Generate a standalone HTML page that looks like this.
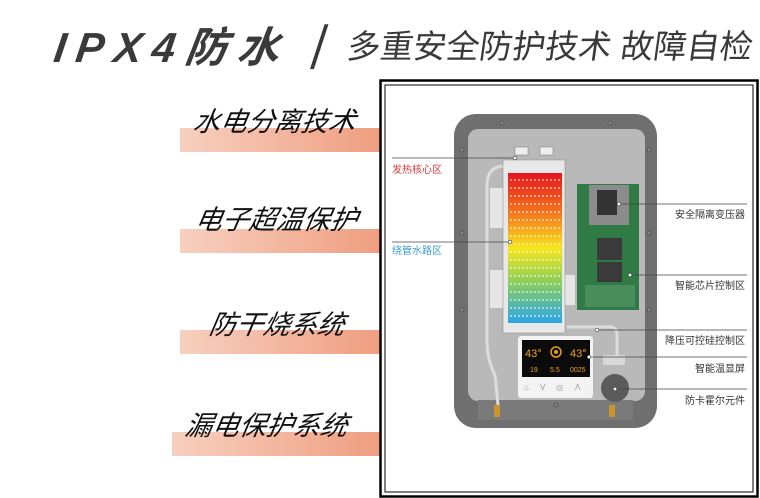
<!DOCTYPE html>
<html><head><meta charset="utf-8"><style>
html,body{margin:0;padding:0;background:#fff;}
body{width:760px;height:498px;position:relative;overflow:hidden;font-family:"Liberation Sans","Noto Sans CJK SC",sans-serif;}
.t{position:absolute;white-space:nowrap;}
.bar{position:absolute;height:24px;background:linear-gradient(90deg,#f7d0bf,#ef9e80);}
.lbl{position:absolute;font-size:27px;font-style:italic;color:#111;white-space:nowrap;transform:skewX(-10deg);}
</style></head><body>
<div class="t" style="left:55px;top:14px;font-size:42px;font-weight:bold;font-style:italic;color:#3a3a3a;letter-spacing:10px;transform:skewX(-8deg);">IPX4防水</div>
<div class="t" style="left:314px;top:16px;font-size:48px;color:#3a3a3a;transform:skewX(-18deg);">|</div>
<div class="t" style="left:348px;top:20px;font-size:33px;color:#3a3a3a;transform:skewX(-8deg);">多重安全防护技术 故障自检</div>

<div class="bar" style="left:180px;top:128px;width:200px;"></div>
<div class="lbl" style="left:194px;top:100px;">水电分离技术</div>
<div class="bar" style="left:180px;top:229px;width:200px;"></div>
<div class="lbl" style="left:196px;top:198px;">电子超温保护</div>
<div class="bar" style="left:180px;top:330px;width:200px;"></div>
<div class="lbl" style="left:210px;top:303px;">防干烧系统</div>
<div class="bar" style="left:172px;top:432px;width:208px;"></div>
<div class="lbl" style="left:186px;top:404px;">漏电保护系统</div>

<svg style="position:absolute;left:0;top:0" width="760" height="498">
<defs>
<linearGradient id="heat" x1="0" y1="0" x2="0" y2="1">
<stop offset="0" stop-color="#e8141c"/><stop offset="0.3" stop-color="#f5841e"/><stop offset="0.5" stop-color="#f7e61a"/><stop offset="0.72" stop-color="#8fcf5a"/><stop offset="1" stop-color="#2aa6e6"/>
</linearGradient>
</defs>
<rect x="380.5" y="80.5" width="377" height="416" fill="none" stroke="#000" stroke-width="2.5"/>
<rect x="385" y="85" width="368" height="407" fill="none" stroke="#000" stroke-width="1"/>
<rect x="454" y="114" width="203" height="314" rx="22" fill="#6f6f6f"/>
<rect x="468" y="129" width="177" height="272" rx="10" fill="#b9b9b9"/>
<rect x="478" y="400" width="155" height="20" fill="#7a7a7a"/>
<g fill="#888" stroke="#555"><circle cx="502" cy="123" r="2"/><circle cx="610" cy="123" r="2"/><circle cx="462" cy="150" r="2"/><circle cx="649" cy="150" r="2"/><circle cx="462" cy="233" r="2"/><circle cx="649" cy="233" r="2"/><circle cx="462" cy="310" r="2"/><circle cx="649" cy="310" r="2"/><circle cx="556" cy="405" r="2"/></g>
<path d="M505 166 Q487 166 487 185 L487 340 Q487 360 495 375 L498 405" fill="none" stroke="#ddd" stroke-width="3"/>
<path d="M567 327 L610 327 Q617 327 617 335 L617 355" fill="none" stroke="#ddd" stroke-width="3"/>
<rect x="494" y="405" width="6" height="12" fill="#c8962c"/><rect x="609" y="405" width="6" height="12" fill="#c8962c"/>
<rect x="490" y="188" width="14" height="40" fill="#e6e6e6"/><rect x="490" y="270" width="14" height="38" fill="#e6e6e6"/><rect x="565" y="275" width="10" height="30" fill="#e6e6e6"/>
<rect x="515" y="147" width="13" height="8" fill="#eee" stroke="#777" stroke-width=".5"/><rect x="540" y="147" width="13" height="8" fill="#eee" stroke="#777" stroke-width=".5"/>
<rect x="503" y="160" width="62" height="173" fill="#e8e8e8" stroke="#888" stroke-width=".5"/>
<rect x="508" y="173" width="54" height="150" fill="url(#heat)"/>
<g stroke="#fff" stroke-width="1" stroke-dasharray="2 2">
<line x1="510" y1="180" x2="560" y2="180"/><line x1="510" y1="188" x2="560" y2="188"/><line x1="510" y1="196" x2="560" y2="196"/><line x1="510" y1="204" x2="560" y2="204"/><line x1="510" y1="212" x2="560" y2="212"/><line x1="510" y1="220" x2="560" y2="220"/><line x1="510" y1="228" x2="560" y2="228"/><line x1="510" y1="236" x2="560" y2="236"/><line x1="510" y1="244" x2="560" y2="244"/><line x1="510" y1="252" x2="560" y2="252"/><line x1="510" y1="260" x2="560" y2="260"/><line x1="510" y1="268" x2="560" y2="268"/><line x1="510" y1="276" x2="560" y2="276"/><line x1="510" y1="284" x2="560" y2="284"/><line x1="510" y1="292" x2="560" y2="292"/><line x1="510" y1="300" x2="560" y2="300"/><line x1="510" y1="308" x2="560" y2="308"/><line x1="510" y1="316" x2="560" y2="316"/></g>
<rect x="577" y="184" width="62" height="126" fill="#2f7a45"/>
<rect x="589" y="185" width="40" height="40" fill="#8c8c8c"/><rect x="597" y="190" width="20" height="25" fill="#333"/>
<rect x="597" y="238" width="25" height="22" fill="#3a3a3a"/><rect x="597" y="262" width="25" height="20" fill="#3a3a3a"/>
<rect x="585" y="285" width="50" height="22" fill="#5a9a6a" opacity=".6"/>
<rect x="518" y="336" width="75" height="62" rx="3" fill="#f3f3f3"/>
<rect x="522" y="340" width="68" height="37" fill="#0b0b0b"/>
<text x="525" y="357" font-size="11" fill="#f2a41c" font-family="Liberation Sans">43°</text><text x="570" y="357" font-size="11" fill="#f2a41c" font-family="Liberation Sans">43°</text>
<circle cx="556" cy="352" r="5" fill="none" stroke="#e89a1a" stroke-width="1.5"/><circle cx="556" cy="352" r="2" fill="#e89a1a"/>
<text x="530" y="372" font-size="7" fill="#f2a41c" font-family="Liberation Sans">19</text><text x="550" y="372" font-size="7" fill="#f2a41c" font-family="Liberation Sans">5.5</text><text x="570" y="372" font-size="7" fill="#f2a41c" font-family="Liberation Sans">0025</text>
<g fill="#999" font-size="8" font-family="Liberation Sans"><text x="523" y="390">♨</text><text x="540" y="390">V</text><text x="556" y="390">◎</text><text x="575" y="390">Λ</text></g>
<circle cx="615" cy="388" r="14" fill="#5b5b5b"/><rect x="603" y="355" width="22" height="10" fill="#d8d8d8"/>
<g stroke="#444" stroke-width=".8" fill="none">
<line x1="392" y1="158" x2="515" y2="158"/><line x1="392" y1="242" x2="510" y2="242"/>
<line x1="620" y1="204" x2="747" y2="204"/><line x1="630" y1="275" x2="747" y2="275"/><line x1="597" y1="330" x2="747" y2="330"/><line x1="589" y1="357" x2="747" y2="357"/><line x1="615" y1="389" x2="747" y2="389"/>
</g>
<g fill="#fff" stroke="#333" stroke-width=".6"><circle cx="515" cy="158" r="1.8"/><circle cx="510" cy="242" r="1.8"/><circle cx="619" cy="204" r="1.8"/><circle cx="630" cy="275" r="1.8"/><circle cx="597" cy="330" r="1.8"/><circle cx="589" cy="357" r="1.8"/><circle cx="615" cy="389" r="1.8"/></g>
<g font-family="Liberation Sans,Noto Sans CJK SC,sans-serif" font-size="10">
<text x="392" y="173" fill="#d33b3b">发热核心区</text><text x="392" y="254" fill="#3c9bd0">绕管水路区</text>
<g fill="#333" text-anchor="end"><text x="745" y="218">安全隔离变压器</text><text x="745" y="289">智能芯片控制区</text><text x="745" y="344">降压可控硅控制区</text><text x="745" y="372">智能温显屏</text><text x="745" y="404">防卡霍尔元件</text></g>
</g>
</svg>
</body></html>
